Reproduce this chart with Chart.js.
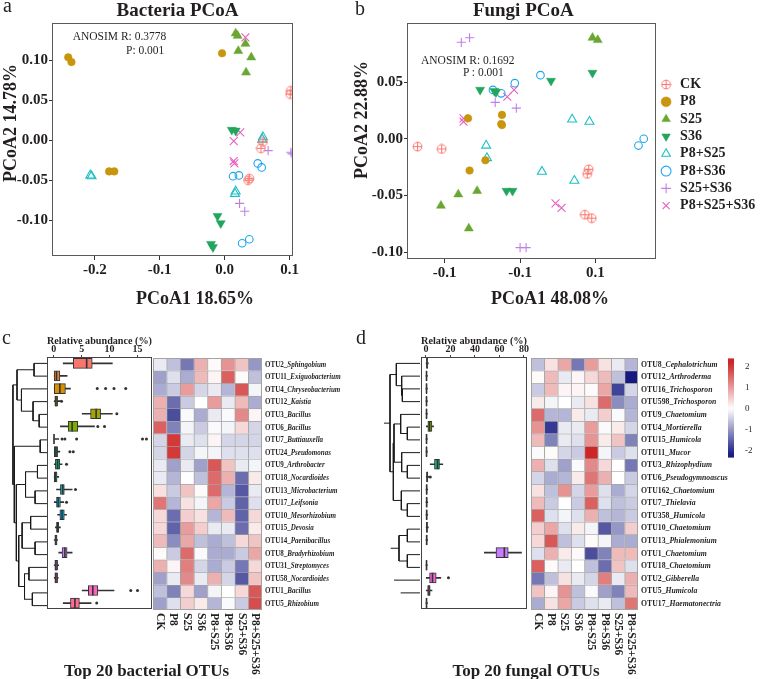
<!DOCTYPE html>
<html><head><meta charset="utf-8">
<script src="https://cdn.jsdelivr.net/npm/chart.js@4.4.1/dist/chart.umd.min.js"></script>
<style>
html,body{margin:0;padding:0;background:#fff;overflow:hidden}
#fig{position:relative;width:760px;height:679px;font-family:"Liberation Serif","Times New Roman",serif;color:#231f20;background:#fff}
#fig canvas{position:absolute}
.tx{position:absolute;white-space:nowrap;line-height:1}
.cc{transform:translate(-50%,-50%)}
.lc{transform:translate(0,-50%)}
.rv{transform:translate(-50%,-50%) rotate(-90deg)}
.b{font-weight:bold}
</style></head><body>
<div id="fig">
 <canvas id="pa" width="300" height="312" style="left:0;top:0"></canvas>
 <canvas id="pb" width="412" height="312" style="left:348px;top:0"></canvas>
 <canvas id="cDen" width="47" height="255" style="left:0;top:357px"></canvas>
 <canvas id="cBox" width="130" height="290" style="left:40px;top:326px"></canvas>
 <canvas id="cHm" width="230" height="349" style="left:150px;top:330px"></canvas>
 <canvas id="dDen" width="40" height="255" style="left:380px;top:357px"></canvas>
 <canvas id="dBox" width="135" height="290" style="left:413px;top:326px"></canvas>
 <canvas id="dHm" width="232" height="349" style="left:528px;top:330px"></canvas>
 <canvas id="dKey" width="40" height="116" style="left:720px;top:350px"></canvas>

 <div class="tx lc" style="left:3px;top:5px;font-size:20px">a</div>
 <div class="tx cc b" style="left:177.5px;top:9px;font-size:19px">Bacteria PCoA</div>
 <div class="tx lc" style="left:72.7px;top:36.7px;font-size:11.5px">ANOSIM R: 0.3778</div>
 <div class="tx lc" style="left:126px;top:50.7px;font-size:11.5px">P: 0.001</div>
 <div class="tx rv b" style="left:10px;top:123px;font-size:18px">PCoA2 14.78%</div>
 <div class="tx cc b" style="left:195px;top:297.7px;font-size:18px">PCoA1 18.65%</div>

 <div class="tx lc" style="left:355px;top:8px;font-size:20px">b</div>
 <div class="tx cc b" style="left:523.3px;top:9px;font-size:19px">Fungi PCoA</div>
 <div class="tx lc" style="left:421px;top:60.7px;font-size:11.5px">ANOSIM R: 0.1692</div>
 <div class="tx lc" style="left:463px;top:72.7px;font-size:11.5px">P : 0.001</div>
 <div class="tx rv b" style="left:361px;top:120px;font-size:18px">PCoA2 22.88%</div>
 <div class="tx cc b" style="left:550px;top:297.7px;font-size:18px">PCoA1 48.08%</div>

 <div class="tx lc" style="left:2px;top:337px;font-size:20px">c</div>
 <div class="tx lc" style="left:356px;top:337px;font-size:20px">d</div>
 <div class="tx cc b" style="left:146.5px;top:670px;font-size:17px">Top 20 bacterial OTUs</div>
 <div class="tx cc b" style="left:526px;top:670px;font-size:17px">Top 20 fungal OTUs</div>
</div>
<script>
const F = '"Liberation Serif","Times New Roman",serif';
const INK = '#231f20';

// ---------------- PCoA data ----------------
const groups = ['CK','P8','S25','S36','P8+S25','P8+S36','S25+S36','P8+S25+S36'];
const groupColors = ['#F8766D','#C9950C','#6AA632','#22A55C','#1EBFC4','#1BA6F0','#C080E8','#E85FC0'];

const aCK   = [{x:0.102,y:0.062},{x:0.101,y:0.058},{x:0.056,y:-0.010},{x:0.059,y:-0.002},{x:0.036,y:-0.050},{x:0.038,y:-0.048}];
const aP8   = [{x:-0.241,y:0.104},{x:-0.236,y:0.098},{x:-0.004,y:0.109},{x:-0.178,y:-0.039},{x:-0.170,y:-0.039}];
const aS25  = [{x:0.017,y:0.134},{x:0.020,y:0.131},{x:0.032,y:0.121},{x:0.021,y:0.112},{x:0.041,y:0.104},{x:0.033,y:0.085}];
const aS36  = [{x:0.011,y:0.013},{x:0.017,y:0.012},{x:-0.011,y:-0.095},{x:-0.006,y:-0.104},{x:-0.021,y:-0.130},{x:-0.018,y:-0.134}];
const aP8S25 = [{x:-0.207,y:-0.044},{x:-0.205,y:-0.045},{x:0.059,y:0.004},{x:0.058,y:0.001},{x:0.017,y:-0.064},{x:0.016,y:-0.067}];
const aP8S36 = [{x:0.051,y:-0.029},{x:0.057,y:-0.034},{x:0.013,y:-0.045},{x:0.022,y:-0.044},{x:0.027,y:-0.129},{x:0.038,y:-0.124}];
const aS25S36 = [{x:0.067,y:-0.013},{x:0.102,y:-0.015},{x:0.104,y:-0.017},{x:0.023,y:-0.079},{x:0.031,y:-0.089}];
const aP8S25S36 = [{x:0.032,y:0.129},{x:0.024,y:0.010},{x:0.014,y:-0.001},{x:0.014,y:-0.026},{x:0.015,y:-0.029}];
const aXTicks = [-0.2,-0.1,0.0,0.1];
const aXTickLabels = ['-0.2','-0.1','0.0','0.1'];
const aYTicks = [0.10,0.05,0.00,-0.05,-0.10];
const aYTickLabels = ['0.10','0.05','0.00','-0.05','-0.10'];

const bCK   = [{x:-0.136,y:-0.007},{x:-0.104,y:-0.009},{x:0.091,y:-0.027},{x:0.089,y:-0.031},{x:0.086,y:-0.067},{x:0.095,y:-0.070}];
const bP8   = [{x:-0.069,y:0.018},{x:-0.024,y:0.021},{x:-0.025,y:0.013},{x:-0.024,y:0.012},{x:-0.046,y:-0.019},{x:-0.067,y:-0.028}];
const bS25  = [{x:0.096,y:0.089},{x:0.103,y:0.087},{x:-0.105,y:-0.059},{x:-0.082,y:-0.049},{x:-0.057,y:-0.046},{x:-0.068,y:-0.079}];
const bS36  = [{x:-0.053,y:0.043},{x:-0.034,y:0.042},{x:-0.032,y:0.041},{x:0.041,y:0.051},{x:0.096,y:0.058},{x:-0.018,y:-0.046},{x:-0.010,y:-0.046}];
const bP8S25 = [{x:0.069,y:0.017},{x:0.092,y:0.015},{x:-0.045,y:-0.006},{x:-0.044,y:-0.017},{x:0.029,y:-0.029},{x:0.072,y:-0.037}];
const bP8S36 = [{x:-0.007,y:0.049},{x:0.027,y:0.056},{x:-0.036,y:0.043},{x:-0.025,y:0.040},{x:0.157,y:-0.006},{x:0.164,y:0.000}];
const bS25S36 = [{x:-0.078,y:0.085},{x:-0.067,y:0.089},{x:-0.033,y:0.032},{x:-0.005,y:0.027},{x:0.000,y:-0.096},{x:0.008,y:-0.096}];
const bP8S25S36 = [{x:-0.075,y:0.018},{x:-0.075,y:0.015},{x:-0.017,y:0.037},{x:-0.008,y:0.043},{x:0.047,y:-0.057},{x:0.055,y:-0.061}];
const bXTicks = [-0.1,0.0,0.1];
const bXTickLabels = ['-0.1','-0.1','0.1'];
const bYTicks = [0.05,0.00,-0.05,-0.10];
const bYTickLabels = ['0.05','0.00','-0.05','-0.10'];

// ---------------- OTU data ----------------
const treatments = ['CK','P8','S25','S36','P8+S25','P8+S36','S25+S36','P8+S25+S36'];
const cOtus = ['OTU2_Sphingobium','OTU11_Exiguobacterium','OTU4_Chryseobacterium','OTU12_Kaistia','OTU3_Bacillus','OTU6_Bacillus','OTU7_Buttiauxella','OTU24_Pseudomonas','OTU9_Arthrobacter','OTU18_Nocardioides','OTU13_Microbacterium','OTU17_Leifsonia','OTU10_Mesorhizobium','OTU15_Devosia','OTU14_Paenibacillus','OTU8_Bradyrhizobium','OTU31_Streptomyces','OTU58_Nocardioides','OTU1_Bacillus','OTU5_Rhizobium'];
const cMin = [1.7,0.0,0.0,0.1,5.1,1.2,0.0,0.1,0.0,0.0,0.5,0.1,0.7,0.3,0.0,0.9,0.0,0.1,5.1,1.7];
const cQ1  = [3.5,0.0,0.1,0.2,6.6,2.6,0.0,0.1,0.3,0.1,1.2,0.5,1.1,0.5,0.2,1.5,0.2,0.2,6.2,3.0];
const cMed = [5.9,0.5,1.1,0.4,7.6,3.3,0.05,0.4,0.7,0.3,1.6,0.8,1.5,0.7,0.4,2.0,0.4,0.4,7.0,3.8];
const cQ3  = [6.9,1.1,2.1,0.7,8.4,4.3,0.1,0.7,1.1,0.6,1.9,1.2,1.9,0.9,0.6,2.4,0.7,0.7,7.9,4.6];
const cMax = [10.5,2.4,3.0,1.2,10.5,7.3,0.9,1.1,1.5,0.9,3.3,1.8,2.3,1.2,0.7,3.3,0.9,0.8,10.8,6.7];
const cOutRow = [2,2,2,2,3,4,5,5,6,6,6,6,6,7,7,8,10,11,18,18,19];
const cOutVal = [7.8,9.3,10.8,12.9,1.4,11.3,7.9,9.1,1.5,2.0,4.1,15.9,16.6,2.9,3.5,2.3,3.9,2.3,13.8,15.0,7.7];
const cBoxTicks = [0,5,10,15];
const cZ = [
 [-0.2,-0.6,-1.3,0.8,0.05,1.1,0.6,-1.0],
 [-0.9,-0.3,-0.8,0.7,0.1,1.6,0.05,-0.6],
 [-0.8,-0.5,1.0,-0.4,-0.2,-0.7,1.7,-0.1],
 [0.8,-1.4,-0.5,0.0,1.0,-0.2,0.7,-0.8],
 [0.8,-1.7,-0.05,-0.8,-0.2,-0.05,1.2,0.1],
 [1.6,-1.2,-0.1,-0.5,-0.05,-0.1,0.4,-0.4],
 [-0.4,2.0,-0.2,-0.3,0.1,-0.4,-0.4,-0.4],
 [-0.4,2.0,-0.4,-0.1,-0.1,-0.3,-0.3,-0.3],
 [-0.2,-0.9,-0.2,-0.9,1.7,0.6,-0.2,-0.1],
 [-0.2,-0.7,0.0,-0.6,1.5,0.8,-1.4,0.2],
 [0.3,-0.5,0.6,0.05,1.5,-0.7,-1.6,-0.2],
 [1.4,-0.7,0.3,-0.1,0.9,-0.5,-1.5,-0.3],
 [0.4,-1.4,0.5,0.3,-0.7,0.7,-1.5,0.4],
 [0.4,-1.5,1.0,0.5,-0.2,-0.2,-1.4,0.2],
 [0.7,-1.1,0.9,-0.6,-0.8,-0.6,0.4,0.6],
 [0.05,-0.5,1.5,-0.05,-0.8,-0.8,-0.5,0.9],
 [0.8,0.1,1.3,-0.4,-0.8,-0.5,-1.3,0.4],
 [-0.9,-0.2,1.2,-0.2,0.8,-0.4,-1.6,0.6],
 [-0.6,-1.2,0.4,-0.9,-0.1,0.0,0.4,1.7],
 [-0.9,-0.3,0.5,0.2,-0.7,-0.05,-0.5,1.8]
];
const cTreeLeft   = [0, 4, 3, 2, 20, 6, 8, 10, 26, 12, 14, 29, 16, 18, 32, 31, 28, 25, 24];
const cTreeRight  = [1, 5, 21, 22, 23, 7, 9, 11, 27, 13, 15, 30, 17, 19, 33, 34, 35, 36, 37];
const cTreeHeight = [38, 23, 41, 75, 88, 20, 28, 35, 63, 48, 35, 73, 53, 43, 66, 83, 90, 96, 100];

const dOtus = ['OTU8_Cephalotrichum','OTU12_Arthroderma','OTU16_Trichosporon','OTU598_Trichosporon','OTU9_Chaetomium','OTU4_Mortierella','OTU15_Humicola','OTU11_Mucor','OTU3_Rhizophydium','OTU6_Pseudogymnoascus','OTU162_Chaetomium','OTU7_Thielavia','OTU358_Humicola','OTU10_Chaetomium','OTU13_Phialemonium','OTU1_Chaetomium','OTU18_Chaetomium','OTU2_Gibberella','OTU5_Humicola','OTU17_Haematonectria'];
const dMin = [0.2,0.1,0.1,0.1,0.1,0.3,0.1,0.1,3.5,0.3,0.1,0.1,0.1,0.2,0.1,47.7,0.1,0.3,0.3,0.1];
const dQ1  = [0.5,0.3,0.3,0.3,0.3,1.6,0.3,0.3,7.0,0.6,0.3,0.3,0.3,0.4,0.3,57.2,0.3,3.0,1.4,0.3];
const dMed = [0.9,0.5,0.5,0.5,0.5,3.0,0.5,0.5,9.5,1.0,0.6,0.6,0.6,0.8,0.6,64.0,0.5,5.4,2.5,0.5];
const dQ3  = [1.4,0.8,0.8,0.8,0.8,4.9,0.8,0.8,11.1,1.6,1.0,1.0,1.0,1.3,1.0,67.2,0.8,8.4,3.5,0.8];
const dMax = [2.0,1.2,1.2,1.2,1.2,6.2,1.2,1.2,13.8,2.5,1.5,1.5,1.5,2.0,1.5,78.0,1.2,12.2,5.0,1.2];
const dOutRow = [9,17];
const dOutVal = [3.6,18.4];
const dBoxTicks = [0,20,40,60,80];
const dZ = [
 [-0.6,0.3,0.9,-1.3,1.0,0.3,-0.2,-0.7],
 [0.05,0.7,-0.2,0.1,0.4,0.7,-0.6,-2.2],
 [-0.5,0.7,0.1,0.1,0.05,0.9,-1.8,-0.4],
 [0.2,-0.1,0.0,-0.2,0.3,1.5,-1.1,-0.8],
 [1.5,-0.7,-0.7,0.2,-0.2,0.5,-0.05,-0.7],
 [1.1,-1.9,-0.2,-0.2,1.0,-0.05,0.2,-0.4],
 [0.7,-1.2,-0.2,-0.3,1.1,0.2,0.6,-1.2],
 [-0.05,0.05,-0.4,-0.5,2.2,-0.1,-0.5,-0.3],
 [0.8,-0.3,-0.9,-0.05,1.2,0.4,0.0,-1.3],
 [-0.4,-0.8,-0.7,0.2,1.4,0.8,0.0,-0.5],
 [0.3,-0.6,1.1,-0.4,1.0,-0.3,-0.8,-0.4],
 [0.7,-0.5,0.0,-0.5,1.6,-0.3,-0.6,-0.5],
 [1.6,-0.3,-0.1,-0.3,0.8,-0.6,-0.7,-0.5],
 [0.5,0.9,-0.3,0.2,-0.1,-1.6,-1.0,0.5],
 [0.4,1.7,-0.6,-0.3,0.05,-0.1,-0.8,-0.8],
 [-0.3,0.8,0.2,0.05,-1.7,-1.2,0.7,0.7],
 [1.6,0.05,-0.2,0.0,-0.6,-1.4,0.6,-0.3],
 [-1.3,-0.6,0.3,-0.2,-0.4,1.3,-0.2,0.8],
 [0.6,0.1,1.1,-0.6,-0.05,-0.9,-1.2,0.7],
 [-0.8,0.3,0.9,-0.5,-0.3,-0.2,-0.6,1.4]
];
const dTreeLeft   = [2, 1, 0, 5, 4, 8, 7, 24, 11, 10, 27, 22, 13, 15, 32, 18, 17, 34, 31];
const dTreeRight  = [3, 20, 21, 6, 23, 9, 25, 26, 12, 28, 29, 30, 14, 16, 33, 35, 36, 37, 37];
const dTreeHeight = [53, 55, 71, 38, 58, 38, 55, 78, 38, 56, 80, 90, 38, 38, 63, 58, 78, 88, 108];

const keyTicks = [-2,-1,0,1,2];
const keyTickLabels = ['-2','-1','0','1','2'];

// ---------------- styles ----------------
const boxPalette = ['#F8766D','#EA8331','#D89000','#C09B00','#A3A500','#7CAE00','#39B600','#00BB4E','#00BF7D','#00C1A3','#00BFC4','#00BAE0','#00B0F6','#35A2FF','#9590FF','#C77CFF','#E76BF3','#FA62DB','#FF62BC','#FF6C91'];

function ckImage(color){
  const c=document.createElement('canvas'); c.width=11; c.height=11;
  const g=c.getContext('2d'); g.strokeStyle=color; g.lineWidth=1;
  g.beginPath(); g.arc(5.5,5.5,4.4,0,Math.PI*2); g.stroke();
  g.beginPath(); g.moveTo(5.5,1.1); g.lineTo(5.5,9.9); g.moveTo(1.1,5.5); g.lineTo(9.9,5.5); g.stroke();
  return c;
}
const markStyle = [
  {shape: ckImage(groupColors[0]), r:5},
  {shape:'circle', r:3.8, fill:true},
  {shape:'triangle', r:5.2, fill:true},
  {shape:'triangle', rot:180, r:5.2, fill:true},
  {shape:'triangle', r:5.2, fill:false},
  {shape:'circle', r:3.8, fill:false},
  {shape:'cross', r:4.6},
  {shape:'crossRot', r:5.6}
];

function zColor(z){
  const lim=2.2; const t=Math.max(-1,Math.min(1,z/lim));
  const w=[255,255,255], hi=[205,38,38], lo=[22,26,128];
  const e = t>=0 ? hi : lo, a=Math.abs(t);
  const c = w.map((v,k)=>Math.round(v+(e[k]-v)*a));
  return `rgb(${c[0]},${c[1]},${c[2]})`;
}

const framePlugin = {id:'frame', afterDraw(chart, args, o){
  if(!o || !o.color) return;
  const {left,top,right,bottom}=chart.chartArea; const ctx=chart.ctx;
  ctx.save(); ctx.strokeStyle=o.color; ctx.lineWidth=o.width||1;
  ctx.strokeRect(Math.round(left)+0.5, Math.round(top)+0.5, Math.round(right)-Math.round(left)-1, Math.round(bottom)-Math.round(top)-1);
  ctx.restore();
}};

function fixedTicks(vals){ return s=>{ s.ticks = vals.map(v=>({value:v})); }; }

function pcoaChart(id, series, ax, legend){
  return new Chart(document.getElementById(id), {
    type:'scatter',
    data:{datasets: series.map((pts,i)=>{
      const s=markStyle[i], col=groupColors[i];
      return {label:groups[i], data:pts, pointStyle:s.shape, rotation:s.rot||0,
        pointRadius:s.r, pointHoverRadius:s.r,
        backgroundColor: s.fill? col : 'rgba(0,0,0,0)', borderColor:col,
        borderWidth: s.fill? 0.5 : 1.1};
    })},
    options:{
      responsive:false, animation:false, events:[],
      layout:{padding:ax.pad},
      scales:{
        x:{type:'linear', min:ax.xmin, max:ax.xmax, afterBuildTicks:fixedTicks(ax.xt),
           ticks:{callback:(v,i)=>ax.xl[i], font:{family:F,size:15,weight:'bold'}, color:INK, padding:1, maxRotation:0, autoSkip:false},
           grid:{drawOnChartArea:false, drawTicks:true, tickLength:4, color:'#333'}, border:{display:false},
           afterFit:s=>{s.height=ax.xh;}},
        y:{type:'linear', min:ax.ymin, max:ax.ymax, afterBuildTicks:fixedTicks(ax.yt),
           ticks:{callback:(v,i)=>ax.yl[i], font:{family:F,size:15,weight:'bold'}, color:INK, padding:1, autoSkip:false},
           grid:{drawOnChartArea:false, drawTicks:true, tickLength:3, color:'#333'}, border:{display:false},
           afterFit:s=>{s.width=ax.yw;}}
      },
      plugins:{
        legend: legend ? {display:true, position:'right', fullSize:false, align:'center',
          title:{display:true, text:'', font:{size:1}, padding:3.5},
          labels:{usePointStyle:true, boxWidth:14, boxHeight:7, padding:3.3, color:INK, font:{family:F,size:14,weight:'bold'}}} : {display:false},
        tooltip:{enabled:false},
        frame:{color:'#5a5a5a'}
      }
    },
    plugins:[framePlugin]
  });
}

pcoaChart('pa', [aCK,aP8,aS25,aS36,aP8S25,aP8S36,aS25S36,aP8S25S36],
  {pad:{left:0,top:23,right:7,bottom:0}, xmin:-0.266, xmax:0.1046, ymin:-0.145, ymax:0.147,
   xt:aXTicks, xl:aXTickLabels, yt:aYTicks, yl:aYTickLabels, xh:56, yw:52}, false);

pcoaChart('pb', [bCK,bP8,bS25,bS36,bP8S25,bP8S36,bS25S36,bP8S25S36],
  {pad:{left:0,top:23,right:1.6,bottom:0}, xmin:-0.150, xmax:0.180, ymin:-0.106, ymax:0.102,
   xt:bXTicks, xl:bXTickLabels, yt:bYTicks, yl:bYTickLabels, xh:53, yw:59}, true);

// ---------------- dendrograms ----------------
function dendroSets(L, R, H, n){
  const ys=[], hs=[];
  for(let i=0;i<n;i++){ ys[i]=i; hs[i]=0; }
  return L.map((a,k)=>{
    const b=R[k], h=H[k], id=n+k;
    ys[id]=(ys[a]+ys[b])/2; hs[id]=h;
    return {data:[{x:hs[a],y:ys[a]},{x:h,y:ys[a]},{x:h,y:ys[b]},{x:hs[b],y:ys[b]}],
      showLine:true, borderColor:'#1a1a1a', borderWidth:1, pointRadius:0, clip:false, tension:0};
  });
}
function dendroChart(id, L, R, H, hmax){
  return new Chart(document.getElementById(id), {
    type:'scatter',
    data:{datasets: dendroSets(L,R,H,20)},
    options:{responsive:false, animation:false, events:[], layout:{padding:0},
      scales:{x:{type:'linear', display:false, reverse:true, min:0, max:hmax},
              y:{type:'linear', display:false, reverse:true, min:-0.5, max:19.5}},
      plugins:{legend:{display:false}, tooltip:{enabled:false}}}
  });
}
dendroChart('cDen', cTreeLeft, cTreeRight, cTreeHeight, 138);
dendroChart('dDen', dTreeLeft, dTreeRight, dTreeHeight, 120);

// ---------------- box plots ----------------
function boxChart(id, names, mn, q1, md, q3, mx, oRow, oVal, ax){
  return new Chart(document.getElementById(id), {
    type:'bar',
    data:{labels:names, datasets:[
      {type:'bar', data: mn.map((v,i)=>[v,mx[i]]), backgroundColor:'#333', barThickness:1, grouped:false, order:3},
      {type:'bar', data: q1.map((v,i)=>[v,q3[i]]), backgroundColor: boxPalette, borderColor:'#333', borderWidth:1, borderSkipped:false, barThickness:10, grouped:false, order:2},
      {type:'scatter', data: md.map((v,i)=>({x:v, y:names[i]})), pointStyle:'line', rotation:90, pointRadius:5, borderColor:'#333', borderWidth:1.6, order:1},
      {type:'scatter', data: oVal.map((v,i)=>({x:v, y:names[oRow[i]]})), pointStyle:'circle', pointRadius:1.5, backgroundColor:'#333', borderWidth:0, order:0}
    ]},
    options:{
      indexAxis:'y', responsive:false, animation:false, events:[],
      layout:{padding:ax.pad},
      scales:{
        x:{type:'linear', position:'top', min:ax.min, max:ax.max, afterBuildTicks:fixedTicks(ax.ticks),
           ticks:{font:{family:F,size:10,weight:'bold'}, color:INK, padding:0, maxRotation:0, autoSkip:false},
           grid:{drawOnChartArea:false, drawTicks:true, tickLength:2, color:'#444'}, border:{display:false},
           title:{display:true, text:'Relative abundance (%)', align:'start', color:INK, font:{family:F,size:11,weight:'bold'}, padding:{top:8.5,bottom:0}},
           afterFit:s=>{s.height=31;}},
        y:{type:'category', display:false, offset:true}
      },
      plugins:{legend:{display:false}, tooltip:{enabled:false}, frame:{color:'#444'}}
    },
    plugins:[framePlugin]
  });
}
boxChart('cBox', cOtus, cMin, cQ1, cMed, cQ3, cMax, cOutRow, cOutVal, {pad:{left:7,right:18,top:0,bottom:4}, min:-1.2, max:17.6, ticks:cBoxTicks});
boxChart('dBox', dOtus, dMin, dQ1, dMed, dQ3, dMax, dOutRow, dOutVal, {pad:{left:8,right:21,top:0,bottom:4}, min:-4, max:82.5, ticks:dBoxTicks});

// ---------------- heatmaps ----------------
const hmLabels = {id:'hmLabels', afterDraw(chart, args, o){
  const {ctx, chartArea} = chart; const xs=chart.scales.x, ys=chart.scales.y;
  ctx.save(); ctx.fillStyle=INK; ctx.textBaseline='middle'; ctx.textAlign='left';
  o.rows.forEach((name,r)=>{
    const y=ys.getPixelForValue(r+0.5); const k=name.indexOf('_')+1;
    ctx.save(); ctx.translate(chartArea.right+o.gap, y); ctx.scale(o.sx,1);
    ctx.font=`bold ${o.rs}px ${F}`; const p=name.slice(0,k); ctx.fillText(p,0,0);
    const w=ctx.measureText(p).width;
    ctx.font=`italic bold ${o.rs}px ${F}`; ctx.fillText(name.slice(k),w,0);
    ctx.restore();
  });
  o.cols.forEach((c,i)=>{
    const x=xs.getPixelForValue(i);
    ctx.save(); ctx.translate(x, chartArea.bottom+o.gap); ctx.rotate(Math.PI/2);
    ctx.font=`bold ${o.cs}px ${F}`; ctx.fillText(c,0,0); ctx.restore();
  });
  ctx.restore();
}};
function heatChart(id, rows, Z, pad, rs, sx){
  return new Chart(document.getElementById(id), {
    type:'bar',
    data:{labels:treatments, datasets: rows.map((name,r)=>({label:name, data:treatments.map(()=>1),
      backgroundColor: Z[r].map(zColor), borderColor:'#a3a3a3', borderWidth:{top:1,left:1,right:0,bottom:0},
      borderSkipped:false, barPercentage:1, categoryPercentage:1, stack:'s'}))},
    options:{responsive:false, animation:false, events:[], layout:{padding:pad},
      scales:{x:{display:false, stacked:true}, y:{display:false, stacked:true, min:0, max:20, reverse:true}},
      plugins:{legend:{display:false}, tooltip:{enabled:false}, frame:{color:'#a3a3a3'},
        hmLabels:{rows, cols:treatments, gap:3, rs, sx, cs:11.5}}},
    plugins:[framePlugin, hmLabels]
  });
}
heatChart('cHm', cOtus, cZ, {left:3,right:118,top:28,bottom:69}, 9, 0.78);
heatChart('dHm', dOtus, dZ, {left:3,right:122,top:28,bottom:69}, 9, 0.86);

// ---------------- colour key ----------------
const keyPlugin = {id:'key', beforeDatasetsDraw(chart){
  const {ctx, chartArea:{left,right,top,bottom}} = chart; const ys=chart.scales.y;
  const g=ctx.createLinearGradient(0,top,0,bottom);
  for(let k=0;k<=24;k++){ const v=ys.max-(ys.max-ys.min)*k/24; g.addColorStop(k/24, zColor(v)); }
  ctx.save(); ctx.fillStyle=g; ctx.fillRect(left,top,right-left,bottom-top); ctx.restore();
}};
new Chart(document.getElementById('dKey'), {
  type:'scatter', data:{datasets:[]},
  options:{responsive:false, animation:false, events:[], layout:{padding:{left:8,top:8,bottom:8,right:0}},
    scales:{x:{display:false, min:0, max:1},
      y:{type:'linear', position:'right', min:-2.32, max:2.4, afterBuildTicks:fixedTicks(keyTicks),
         ticks:{callback:(v,i)=>keyTickLabels[i], font:{family:F,size:9}, color:INK, padding:3},
         grid:{display:false}, border:{display:false}, afterFit:s=>{s.width=26;}}},
    plugins:{legend:{display:false}, tooltip:{enabled:false}}},
  plugins:[keyPlugin]
});
</script>
</body></html>
